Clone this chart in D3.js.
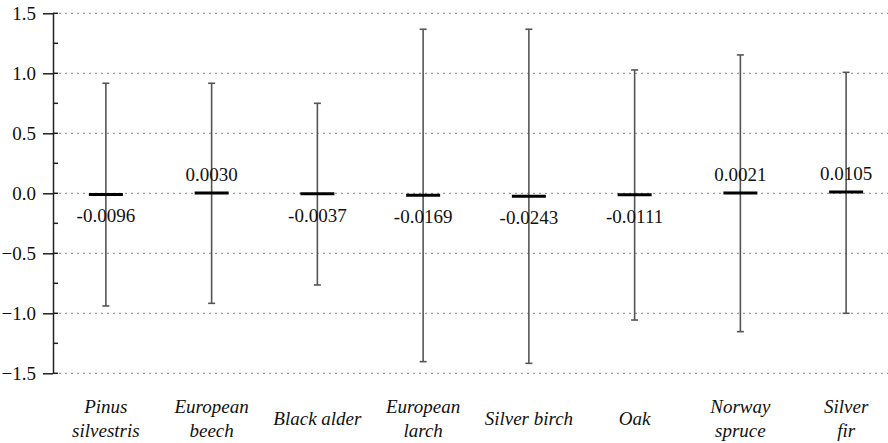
<!DOCTYPE html>
<html>
<head>
<meta charset="utf-8">
<script src="https://cdn.jsdelivr.net/npm/d3@7"></script>
<style>
  body { margin: 0; background: #fff; }
</style>
</head>
<body>
<div id="chart"></div>
<script>
// species, shown as one or two label lines
const species = [
    ["Pinus", "silvestris"],
    ["European", "beech"],
    ["Black alder"],
    ["European", "larch"],
    ["Silver birch"],
    ["Oak"],
    ["Norway", "spruce"],
    ["Silver", "fir"]
];
const means = [-0.0096, 0.0030, -0.0037, -0.0169, -0.0243, -0.0111, 0.0021, 0.0105];
const meanLabels = ["-0.0096", "0.0030", "-0.0037", "-0.0169", "-0.0243", "-0.0111", "0.0021", "0.0105"];
const upper = [0.917, 0.917, 0.75, 1.367, 1.367, 1.028, 1.153, 1.008];
const lower = [-0.939, -0.917, -0.764, -1.403, -1.417, -1.056, -1.153, -1.0];
const yTicks = [-1.5, -1.0, -0.5, 0.0, 0.5, 1.0, 1.5];
const yMinorTicks = [-1.25, -0.75, -0.25, 0.25, 0.75, 1.25];

const width = 888;
const height = 443;
const axisX = 53;
const serif = '"Liberation Serif"';

const svg = d3.select("#chart").append("svg")
    .attr("width", width)
    .attr("height", height);

const x = d3.scaleBand()
    .domain(d3.range(species.length))
    .range([axisX, axisX + 8 * 105.75]);

const y = d3.scaleLinear()
    .domain([-1.5, 1.5])
    .range([373.3, 13.3]);

// dotted grid
svg.append("g")
    .selectAll("line")
    .data(yTicks)
    .enter()
    .append("line")
    .attr("x1", axisX)
    .attr("x2", width)
    .attr("y1", d => y(d))
    .attr("y2", d => y(d))
    .attr("stroke", "#9a9a9a")
    .attr("stroke-width", 1.2)
    .attr("stroke-dasharray", "2,4");

// y axis, major ticks to the left
const yAxis = svg.append("g")
    .attr("transform", `translate(${axisX},0)`)
    .call(d3.axisLeft(y).tickValues(yTicks).tickFormat(d3.format(".1f")).tickSize(10).tickPadding(7).tickSizeOuter(0));
yAxis.select(".domain").attr("stroke", "#222").attr("stroke-width", 1.5);
yAxis.selectAll(".tick line").attr("stroke", "#222").attr("stroke-width", 1.5);
yAxis.selectAll(".tick text")
    .style("font-family", serif)
    .style("font-size", "19px")
    .attr("fill", "#111");

// short ticks to the right, major and minor
svg.append("g")
    .selectAll("line")
    .data(yTicks.concat(yMinorTicks))
    .enter()
    .append("line")
    .attr("x1", axisX)
    .attr("x2", axisX + 5)
    .attr("y1", d => y(d))
    .attr("y2", d => y(d))
    .attr("stroke", "#222")
    .attr("stroke-width", 1.5);

const cx = i => x(i) + x.bandwidth() / 2;

const groups = svg.append("g")
    .selectAll("g")
    .data(d3.range(species.length))
    .enter()
    .append("g");

// whiskers
groups.append("line")
    .attr("x1", cx).attr("x2", cx)
    .attr("y1", i => y(upper[i]))
    .attr("y2", i => y(lower[i]))
    .attr("stroke", "#555")
    .attr("stroke-width", 1.6);

groups.append("line")
    .attr("x1", i => cx(i) - 3.5).attr("x2", i => cx(i) + 3.5)
    .attr("y1", i => y(upper[i])).attr("y2", i => y(upper[i]))
    .attr("stroke", "#555")
    .attr("stroke-width", 1.6);

groups.append("line")
    .attr("x1", i => cx(i) - 3.5).attr("x2", i => cx(i) + 3.5)
    .attr("y1", i => y(lower[i])).attr("y2", i => y(lower[i]))
    .attr("stroke", "#555")
    .attr("stroke-width", 1.6);

// mean bar
groups.append("line")
    .attr("x1", i => cx(i) - 17).attr("x2", i => cx(i) + 17)
    .attr("y1", i => y(means[i])).attr("y2", i => y(means[i]))
    .attr("stroke", "#000")
    .attr("stroke-width", 3);

// mean values
groups.append("text")
    .attr("x", cx)
    .attr("y", i => means[i] >= 0 ? y(means[i]) - 12 : y(means[i]) + 28)
    .attr("text-anchor", "middle")
    .style("font-family", serif)
    .style("font-size", "19px")
    .attr("fill", "#111")
    .text(i => meanLabels[i]);

// category labels
const labels = svg.append("g")
    .selectAll("text")
    .data(d3.range(species.length))
    .enter()
    .append("text")
    .attr("x", cx)
    .attr("y", 425)
    .attr("text-anchor", "middle")
    .style("font-family", serif)
    .style("font-style", "italic")
    .style("font-size", "19px")
    .attr("fill", "#111");

labels.selectAll("tspan")
    .data(i => species[i].map((t, k) => ({ t, k, n: species[i].length, i })))
    .enter()
    .append("tspan")
    .attr("x", d => cx(d.i))
    .attr("y", d => 425 + (d.k - (d.n - 1) / 2) * 24.5)
    .text(d => d.t);
</script>
</body>
</html>
